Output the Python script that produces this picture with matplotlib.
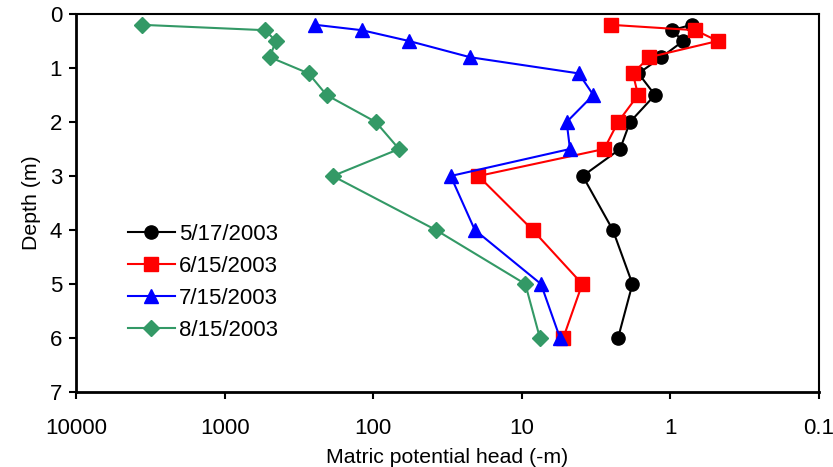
import matplotlib.pyplot as plt
from matplotlib.ticker import FixedLocator, FixedFormatter, NullLocator

plt.rcParams['font.family'] = ['Liberation Sans', 'DejaVu Sans']

# Profundidades (m) y potencial matricial (-m) por fecha
depth = [0.2, 0.3, 0.5, 0.8, 1.1, 1.5, 2.0, 2.5, 3.0, 4.0, 5.0, 6.0]
h_0517 = [0.72, 0.98, 0.82, 1.15, 1.64, 1.27, 1.87, 2.18, 3.89, 2.44, 1.80, 2.25]
h_0615 = [2.52, 0.68, 0.48, 1.39, 1.79, 1.65, 2.25, 2.79, 19.6, 8.45, 3.92, 5.26]
h_0715 = [245, 119, 57.4, 22.3, 4.14, 3.30, 4.99, 4.74, 30.1, 20.7, 7.43, 5.53]
h_0815 = [3610, 532, 453, 495, 272, 206, 96, 67, 187, 37.8, 9.47, 7.55]

labels = ["5/17/2003", "6/15/2003", "7/15/2003", "8/15/2003"]
colors = ["black", "#FF0000", "#0000FF", "#339966"]
markers = ["o", "s", "^", "D"]
sizes = [9.5, 9.5, 9.5, 8]

x_ticks = [10000, 1000, 100, 10, 1, 0.1]
x_tick_labels = ["10000", "1000", "100", "10", "1", "0.1"]

fig = plt.figure(figsize=(8.33, 4.67), dpi=100)
ax = fig.add_axes([0.0912, 0.1606, 0.8920, 0.8094])

for h, lab, c, m, s in zip([h_0517, h_0615, h_0715, h_0815], labels, colors, markers, sizes):
    ax.plot(h, depth, color=c, marker=m, markersize=s, linewidth=1.5, label=lab)

ax.set_xscale("log")
ax.set_xlim(10000, 0.1)
ax.set_ylim(7, 0)
ax.xaxis.set_major_locator(FixedLocator(x_ticks))
ax.xaxis.set_major_formatter(FixedFormatter(x_tick_labels))
ax.xaxis.set_minor_locator(NullLocator())
ax.set_yticks(range(0, 8))

ax.tick_params(axis="both", direction="out", length=5, width=1.5, labelsize=16, pad=14)
ax.tick_params(axis="y", pad=5)
for side in ["left", "bottom"]:
    ax.spines[side].set_linewidth(2)
for side in ["top", "right"]:
    ax.spines[side].set_linewidth(1.5)

ax.set_xlabel("Matric potential head (-m)", fontsize=15.3, labelpad=6)
ax.set_ylabel("Depth (m)", fontsize=15.3, labelpad=6)

ax.legend(loc="lower left", bbox_to_anchor=(0.049, 0.094), frameon=False, fontsize=16,
          handlelength=2.1, labelspacing=0.5, handletextpad=0.2, borderpad=0.2)

fig.savefig("out.png", dpi=100)
